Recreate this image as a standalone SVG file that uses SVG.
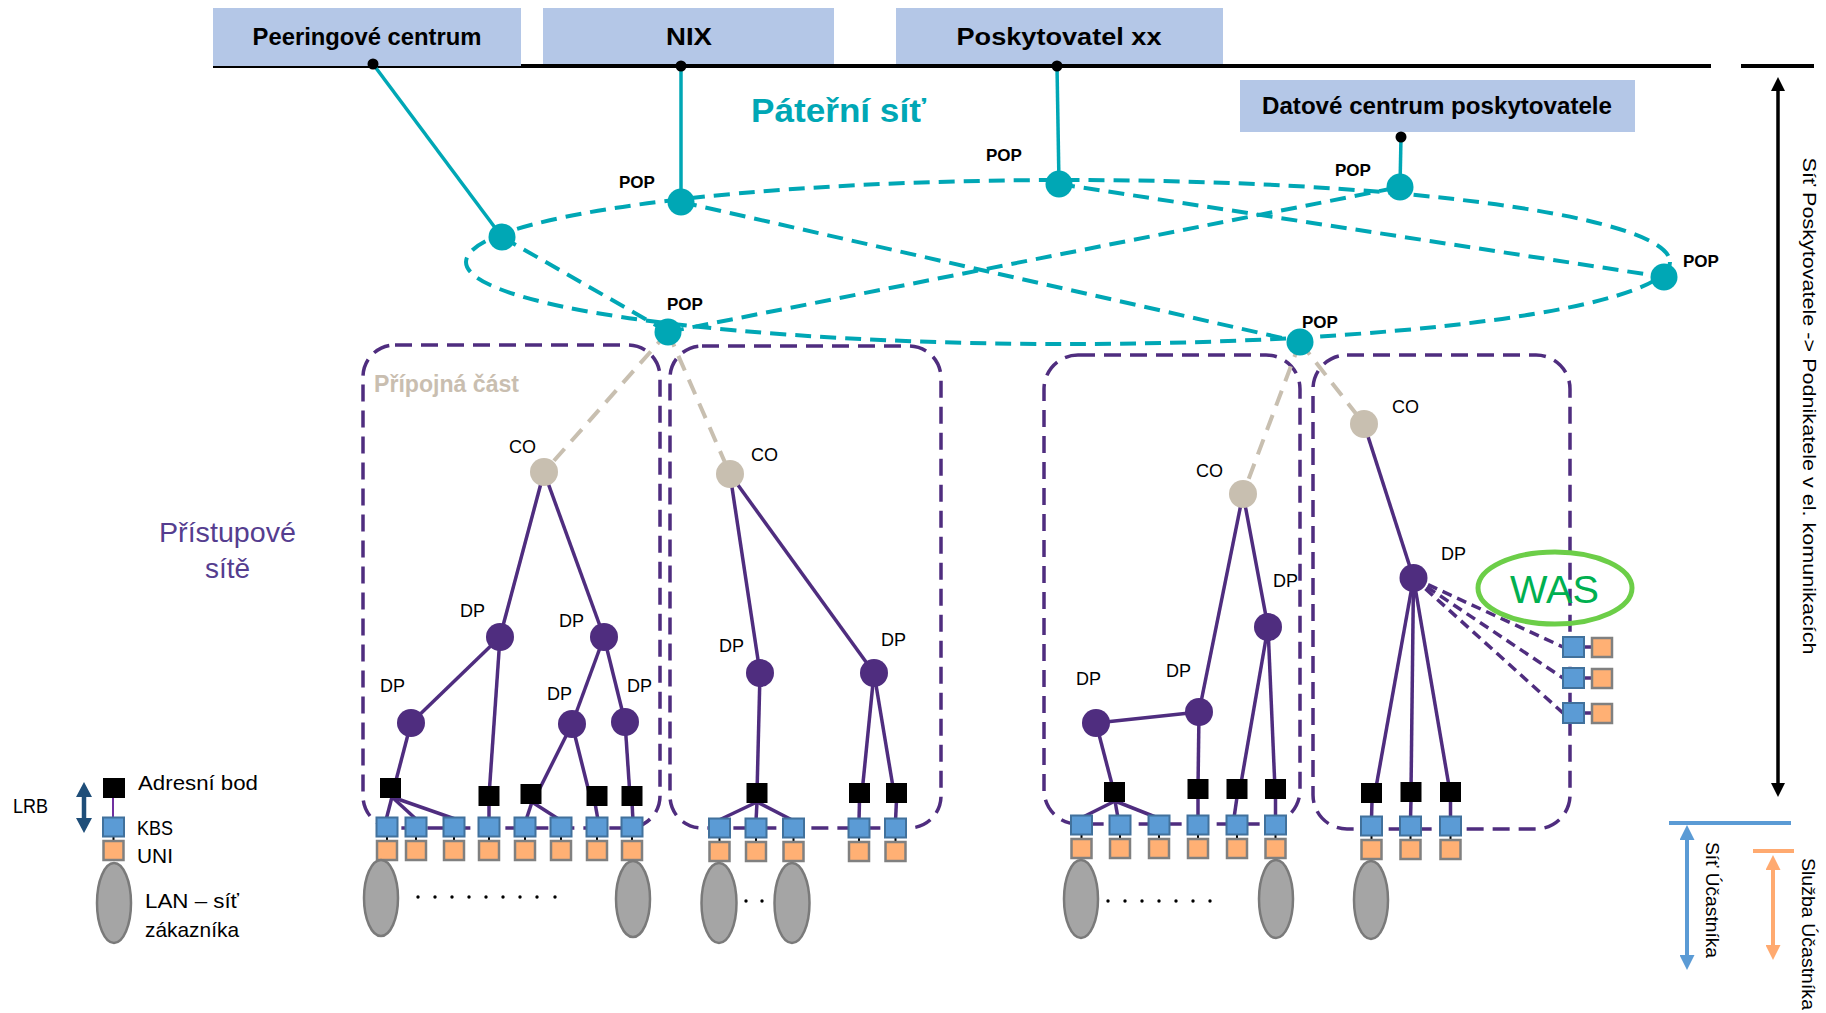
<svg xmlns="http://www.w3.org/2000/svg" xmlns:xlink="http://www.w3.org/1999/xlink" width="1826" height="1013" viewBox="0 0 1826 1013">
<style>
text{font-family:"Liberation Sans",Arial,sans-serif}
.box{fill:#B4C7E7}
.boxt{font-size:23px;font-weight:bold;fill:#000;text-anchor:middle}
.ts{stroke:#00A7B5;stroke-width:3.5;fill:none}
.td{stroke:#00A7B5;stroke-width:4;fill:none;stroke-dasharray:16 9}
.bd{stroke:#C8BFB0;stroke-width:4;fill:none;stroke-dasharray:16 10}
.pl{stroke:#4F2D7F;stroke-width:3.5;fill:none}
.pd{stroke:#4F2D7F;stroke-width:3.5;fill:none;stroke-dasharray:10 6}
.pbox{fill:none;stroke:#4F2D7F;stroke-width:3.5;stroke-dasharray:17 9}
.pop{fill:#00A7B5}
.co{fill:#C8BFB0}
.dp{fill:#4F2D7F}
.ab{fill:#000}
.kbs{fill:#5B9BD5;stroke:#41719C;stroke-width:2}
.uni{fill:#FFB074;stroke:#808080;stroke-width:2.5}
.lan{fill:#A5A5A5;stroke:#7A7A7A;stroke-width:2.5}
.popl{font-size:17px;font-weight:bold;fill:#000}
.lbl{font-size:18px;fill:#000}
.leg{font-size:21px;fill:#000}
.vt{font-size:19px;fill:#000;text-anchor:middle}
</style>
<defs>
<g id="ku">
<line x1="0" y1="9" x2="0" y2="15" stroke="#000" stroke-width="2"/>
<rect class="kbs" x="-10.5" y="-9.5" width="21" height="19"/>
<rect class="uni" x="-10" y="14" width="20" height="19"/>
</g>
<marker id="ahK" viewBox="0 0 14 14" refX="9" refY="7" markerWidth="14" markerHeight="15" markerUnits="userSpaceOnUse" orient="auto-start-reverse"><path d="M0,0 L14,7 L0,14 z" fill="#000"/></marker>
<marker id="ahB" viewBox="0 0 15 15" refX="10" refY="7.5" markerWidth="15" markerHeight="15" markerUnits="userSpaceOnUse" orient="auto-start-reverse"><path d="M0,0 L15,7.5 L0,15 z" fill="#5B9BD5"/></marker>
<marker id="ahO" viewBox="0 0 15 15" refX="10" refY="7.5" markerWidth="15" markerHeight="15" markerUnits="userSpaceOnUse" orient="auto-start-reverse"><path d="M0,0 L15,7.5 L0,15 z" fill="#FFAA70"/></marker>
<marker id="ahD" viewBox="0 0 15 16" refX="10" refY="8" markerWidth="15" markerHeight="16" markerUnits="userSpaceOnUse" orient="auto-start-reverse"><path d="M0,0 L15,8 L0,16 z" fill="#1F4E79"/></marker>
</defs>
<rect width="1826" height="1013" fill="#fff"/>

<!-- backbone line -->
<line x1="213" y1="66" x2="1711" y2="66" stroke="#000" stroke-width="4"/>
<line x1="1741" y1="66" x2="1814" y2="66" stroke="#000" stroke-width="4"/>

<g id="peering"><rect class="box" x="213" y="8" width="308" height="58"/><text class="boxt" x="367" y="45" textLength="229" lengthAdjust="spacingAndGlyphs">Peeringové centrum</text></g>
<g id="nix"><rect class="box" x="543" y="8" width="291" height="56"/><text class="boxt" x="689" y="45" textLength="46" lengthAdjust="spacingAndGlyphs">NIX</text></g>
<g id="poskytovatel"><rect class="box" x="896" y="8" width="327" height="56"/><text class="boxt" x="1059" y="45" textLength="205" lengthAdjust="spacingAndGlyphs">Poskytovatel xx</text></g>
<g id="datacentrum"><rect class="box" x="1240" y="80" width="395" height="52"/><text class="boxt" x="1437" y="114" textLength="350" lengthAdjust="spacingAndGlyphs">Datové centrum poskytovatele</text></g>

<text x="751" y="122" font-size="34" font-weight="bold" fill="#00A7B5" textLength="175" lengthAdjust="spacingAndGlyphs">Páteřní síť</text>

<!-- access boxes -->
<g id="access-areas">
<rect class="pbox" x="363" y="345" width="297" height="483" rx="32"/>
<rect class="pbox" x="670" y="346" width="271" height="482" rx="32"/>
<rect class="pbox" x="1044" y="355" width="256" height="469" rx="34"/>
<rect class="pbox" x="1313" y="355" width="257" height="474" rx="34"/>
</g>
<text x="374" y="392" font-size="23" font-weight="bold" fill="#C9BEB0" textLength="145" lengthAdjust="spacingAndGlyphs">Přípojná část</text>

<g id="connectors">
<!-- backbone -->
<line class="ts" x1="373" y1="64" x2="502" y2="237"/>
<line class="ts" x1="681" y1="66" x2="681" y2="202"/>
<line class="ts" x1="1057" y1="66" x2="1059" y2="184"/>
<line class="ts" x1="1401" y1="137" x2="1400" y2="187"/>
<ellipse class="td" cx="1068" cy="262" rx="602" ry="82"/>
<line class="td" x1="502" y1="237" x2="668" y2="332"/>
<line class="td" x1="668" y1="332" x2="1400" y2="187"/>
<line class="td" x1="681" y1="202" x2="1300" y2="342"/>
<line class="td" x1="1059" y1="184" x2="1664" y2="277"/>
<!-- POP to CO -->
<line class="bd" x1="668" y1="332" x2="544" y2="472"/>
<line class="bd" x1="668" y1="332" x2="730" y2="474"/>
<line class="bd" x1="1300" y1="342" x2="1243" y2="494"/>
<line class="bd" x1="1300" y1="342" x2="1364" y2="424"/>
<!-- tree A -->
<line class="pl" x1="544" y1="472" x2="500" y2="637"/>
<line class="pl" x1="544" y1="472" x2="604" y2="637"/>
<line class="pl" x1="500" y1="637" x2="411" y2="723"/>
<line class="pl" x1="500" y1="637" x2="489" y2="796"/>
<line class="pl" x1="604" y1="637" x2="572" y2="724"/>
<line class="pl" x1="604" y1="637" x2="625" y2="722"/>
<line class="pl" x1="411" y1="723" x2="394" y2="788"/>
<line class="pl" x1="572" y1="724" x2="538" y2="792"/>
<line class="pl" x1="572" y1="724" x2="590" y2="796"/>
<line class="pl" x1="625" y1="722" x2="630" y2="796"/>
<line class="pl" x1="392" y1="797" x2="386" y2="820"/>
<line class="pl" x1="392" y1="797" x2="417" y2="820"/>
<line class="pl" x1="392" y1="797" x2="455" y2="819"/>
<line class="pl" x1="489" y1="800" x2="489" y2="820"/>
<line class="pl" x1="532" y1="802" x2="526" y2="820"/>
<line class="pl" x1="532" y1="802" x2="560" y2="820"/>
<line class="pl" x1="595" y1="803" x2="598" y2="820"/>
<line class="pl" x1="632" y1="803" x2="633" y2="820"/>
<!-- tree B -->
<line class="pl" x1="730" y1="474" x2="760" y2="673"/>
<line class="pl" x1="730" y1="474" x2="874" y2="673"/>
<line class="pl" x1="760" y1="673" x2="757" y2="793"/>
<line class="pl" x1="874" y1="673" x2="862" y2="793"/>
<line class="pl" x1="874" y1="673" x2="894" y2="793"/>
<line class="pl" x1="757" y1="802" x2="717" y2="821"/>
<line class="pl" x1="757" y1="802" x2="756" y2="821"/>
<line class="pl" x1="757" y1="802" x2="794" y2="821"/>
<line class="pl" x1="859.5" y1="800" x2="859" y2="821"/>
<line class="pl" x1="896.5" y1="800" x2="895.5" y2="821"/>
<!-- tree C -->
<line class="pl" x1="1243" y1="494" x2="1199" y2="712"/>
<line class="pl" x1="1243" y1="494" x2="1268" y2="627"/>
<line class="pl" x1="1096" y1="723" x2="1199" y2="712"/>
<line class="pl" x1="1096" y1="723" x2="1114" y2="792"/>
<line class="pl" x1="1199" y1="712" x2="1198" y2="789"/>
<line class="pl" x1="1268" y1="627" x2="1240" y2="789"/>
<line class="pl" x1="1268" y1="627" x2="1275" y2="789"/>
<line class="pl" x1="1115" y1="801" x2="1081" y2="818"/>
<line class="pl" x1="1115" y1="801" x2="1118" y2="818"/>
<line class="pl" x1="1115" y1="801" x2="1158" y2="818"/>
<line class="pl" x1="1198" y1="797" x2="1198" y2="818"/>
<line class="pl" x1="1237" y1="797" x2="1234" y2="818"/>
<line class="pl" x1="1275.5" y1="797" x2="1275.5" y2="818"/>
<!-- tree D -->
<line class="pl" x1="1364" y1="424" x2="1413.5" y2="578"/>
<line class="pl" x1="1413.5" y1="578" x2="1375" y2="793"/>
<line class="pl" x1="1413.5" y1="578" x2="1411" y2="792"/>
<line class="pl" x1="1413.5" y1="578" x2="1450" y2="792"/>
<line class="pl" x1="1372" y1="801" x2="1371.5" y2="819"/>
<line class="pl" x1="1411" y1="800" x2="1410.5" y2="819"/>
<line class="pl" x1="1450.5" y1="800" x2="1450.5" y2="819"/>
<!-- WAS -->
<line class="pd" x1="1413.5" y1="578" x2="1563" y2="647"/>
<line class="pd" x1="1413.5" y1="578" x2="1563" y2="678"/>
<line class="pd" x1="1413.5" y1="578" x2="1563" y2="713"/>
<line class="pl" x1="1583" y1="647" x2="1593" y2="647"/>
<line class="pl" x1="1583" y1="678" x2="1593" y2="678"/>
<line class="pl" x1="1583" y1="713" x2="1593" y2="713"/>
</g>

<!-- POP nodes -->
<g id="pops">
<circle class="pop" cx="502" cy="237" r="13.5"/>
<circle class="pop" cx="681" cy="202" r="13.5"/>
<circle class="pop" cx="1059" cy="184" r="13.5"/>
<circle class="pop" cx="1400" cy="187" r="13.5"/>
<circle class="pop" cx="1664" cy="277" r="13.5"/>
<circle class="pop" cx="1300" cy="342" r="13.5"/>
<circle class="pop" cx="668" cy="332" r="13.5"/>
<circle cx="373" cy="64" r="5.5"/>
<circle cx="681" cy="66" r="5.5"/>
<circle cx="1057" cy="66" r="5.5"/>
<circle cx="1401" cy="137" r="5.5"/>
<text class="popl" x="619" y="188">POP</text>
<text class="popl" x="667" y="310">POP</text>
<text class="popl" x="986" y="161">POP</text>
<text class="popl" x="1335" y="176">POP</text>
<text class="popl" x="1683" y="267">POP</text>
<text class="popl" x="1302" y="328">POP</text>
</g>

<!-- access tree A -->
<g id="tree-a">
<circle class="co" cx="544" cy="472" r="14"/>
<text class="lbl" x="509" y="453">CO</text>
<circle class="dp" cx="500" cy="637" r="14"/><text class="lbl" x="460" y="617">DP</text>
<circle class="dp" cx="604" cy="637" r="14"/><text class="lbl" x="559" y="627">DP</text>
<circle class="dp" cx="411" cy="723" r="14"/><text class="lbl" x="380" y="692">DP</text>
<circle class="dp" cx="572" cy="724" r="14"/><text class="lbl" x="547" y="700">DP</text>
<circle class="dp" cx="625" cy="722" r="14"/><text class="lbl" x="627" y="692">DP</text>
<rect class="ab" x="380" y="778" width="21" height="20"/>
<rect class="ab" x="478.5" y="786" width="21" height="20"/>
<rect class="ab" x="520.5" y="784" width="21" height="20"/>
<rect class="ab" x="586.5" y="786" width="21" height="20"/>
<rect class="ab" x="621.5" y="786" width="21" height="20"/>
<use xlink:href="#ku" x="387" y="827"/>
<use xlink:href="#ku" x="416" y="827"/>
<use xlink:href="#ku" x="454" y="827"/>
<use xlink:href="#ku" x="489" y="827"/>
<use xlink:href="#ku" x="525" y="827"/>
<use xlink:href="#ku" x="561" y="827"/>
<use xlink:href="#ku" x="597" y="827"/>
<use xlink:href="#ku" x="632" y="827"/>
<ellipse class="lan" cx="381" cy="898" rx="17" ry="38"/>
<ellipse class="lan" cx="633" cy="899" rx="17" ry="38"/>
<g fill="#000"><circle cx="418" cy="897" r="1.7"/><circle cx="435" cy="897" r="1.7"/><circle cx="452" cy="897" r="1.7"/><circle cx="469" cy="897" r="1.7"/><circle cx="486" cy="897" r="1.7"/><circle cx="503" cy="897" r="1.7"/><circle cx="520" cy="897" r="1.7"/><circle cx="537" cy="897" r="1.7"/><circle cx="555" cy="897" r="1.7"/></g>
</g>

<!-- access tree B -->
<g id="tree-b">
<circle class="co" cx="730" cy="474" r="14"/><text class="lbl" x="751" y="461">CO</text>
<circle class="dp" cx="760" cy="673" r="14"/><text class="lbl" x="719" y="652">DP</text>
<circle class="dp" cx="874" cy="673" r="14"/><text class="lbl" x="881" y="646">DP</text>
<rect class="ab" x="746.5" y="783" width="21" height="20"/>
<rect class="ab" x="849" y="783" width="21" height="20"/>
<rect class="ab" x="886" y="783" width="21" height="20"/>
<use xlink:href="#ku" x="719.5" y="828"/>
<use xlink:href="#ku" x="756" y="828"/>
<use xlink:href="#ku" x="793.5" y="828"/>
<use xlink:href="#ku" x="859" y="828"/>
<use xlink:href="#ku" x="895.5" y="828"/>
<ellipse class="lan" cx="719" cy="903" rx="17.5" ry="40"/>
<ellipse class="lan" cx="792" cy="903" rx="17.5" ry="40"/>
<g fill="#000"><circle cx="746" cy="901" r="1.7"/><circle cx="762" cy="901" r="1.7"/></g>
</g>

<!-- access tree C -->
<g id="tree-c">
<circle class="co" cx="1243" cy="494" r="14"/><text class="lbl" x="1196" y="477">CO</text>
<circle class="dp" cx="1268" cy="627" r="14"/><text class="lbl" x="1273" y="587">DP</text>
<circle class="dp" cx="1199" cy="712" r="14"/><text class="lbl" x="1166" y="677">DP</text>
<circle class="dp" cx="1096" cy="723" r="14"/><text class="lbl" x="1076" y="685">DP</text>
<rect class="ab" x="1104" y="782" width="21" height="20"/>
<rect class="ab" x="1187.5" y="779" width="21" height="20"/>
<rect class="ab" x="1226.5" y="779" width="21" height="20"/>
<rect class="ab" x="1265" y="779" width="21" height="20"/>
<use xlink:href="#ku" x="1081.5" y="825"/>
<use xlink:href="#ku" x="1120" y="825"/>
<use xlink:href="#ku" x="1159" y="825"/>
<use xlink:href="#ku" x="1198" y="825"/>
<use xlink:href="#ku" x="1237" y="825"/>
<use xlink:href="#ku" x="1275.5" y="825"/>
<ellipse class="lan" cx="1081" cy="899" rx="17" ry="39"/>
<ellipse class="lan" cx="1276" cy="899" rx="17" ry="39"/>
<g fill="#000"><circle cx="1108" cy="901" r="1.7"/><circle cx="1125" cy="901" r="1.7"/><circle cx="1142" cy="901" r="1.7"/><circle cx="1159" cy="901" r="1.7"/><circle cx="1176" cy="901" r="1.7"/><circle cx="1193" cy="901" r="1.7"/><circle cx="1210" cy="901" r="1.7"/></g>
</g>

<!-- access tree D -->
<g id="tree-d">
<circle class="co" cx="1364" cy="424" r="14"/><text class="lbl" x="1392" y="413">CO</text>
<circle class="dp" cx="1413.5" cy="578" r="14"/><text class="lbl" x="1441" y="560">DP</text>
<rect class="ab" x="1361" y="783" width="21" height="20"/>
<rect class="ab" x="1400.5" y="782" width="21" height="20"/>
<rect class="ab" x="1440" y="782" width="21" height="20"/>
<use xlink:href="#ku" x="1371.5" y="826"/>
<use xlink:href="#ku" x="1410.5" y="826"/>
<use xlink:href="#ku" x="1450.5" y="826"/>
<ellipse class="lan" cx="1371" cy="900" rx="17" ry="39"/>
</g>

<!-- WAS -->
<g id="was">
<ellipse cx="1555" cy="588" rx="77" ry="36" fill="none" stroke="#6CCE48" stroke-width="5"/>
<text x="1510" y="603" font-size="39" fill="#00B050" textLength="89" lengthAdjust="spacingAndGlyphs">WAS</text>
<rect class="kbs" x="1563" y="637" width="21" height="20"/><rect class="uni" x="1592" y="638" width="20" height="19"/>
<rect class="kbs" x="1563" y="668" width="21" height="20"/><rect class="uni" x="1592" y="669" width="20" height="19"/>
<rect class="kbs" x="1563" y="703" width="21" height="20"/><rect class="uni" x="1592" y="704" width="20" height="19"/>
</g>

<!-- left labels / legend -->
<g id="legend">
<text x="227.5" y="542" font-size="28" fill="#553D8F" text-anchor="middle" textLength="137" lengthAdjust="spacingAndGlyphs">Přístupové</text>
<text x="227.5" y="578" font-size="28" fill="#553D8F" text-anchor="middle">sítě</text>
<line x1="84" y1="787" x2="84" y2="828" stroke="#1F4E79" stroke-width="4.5" marker-start="url(#ahD)" marker-end="url(#ahD)"/>
<text class="leg" x="13" y="813" textLength="35" lengthAdjust="spacingAndGlyphs">LRB</text>
<line x1="113" y1="798" x2="113" y2="818" stroke="#7030A0" stroke-width="2"/>
<rect class="ab" x="103" y="778" width="22" height="20"/>
<use xlink:href="#ku" x="113.5" y="827"/>
<ellipse class="lan" cx="114" cy="903" rx="17" ry="40"/>
<text class="leg" x="138" y="790" textLength="120" lengthAdjust="spacingAndGlyphs">Adresní bod</text>
<text class="leg" x="137" y="835" textLength="36" lengthAdjust="spacingAndGlyphs">KBS</text>
<text class="leg" x="137" y="863" textLength="36" lengthAdjust="spacingAndGlyphs">UNI</text>
<text class="leg" x="145" y="908" textLength="94" lengthAdjust="spacingAndGlyphs">LAN –  síť</text>
<text class="leg" x="145" y="937" textLength="94" lengthAdjust="spacingAndGlyphs">zákazníka</text>
</g>

<!-- right scale -->
<g id="scale">
<line x1="1778" y1="82" x2="1778" y2="792" stroke="#000" stroke-width="3.5" marker-start="url(#ahK)" marker-end="url(#ahK)"/>
<text class="vt" transform="translate(1803,406) rotate(90)" textLength="497" lengthAdjust="spacingAndGlyphs">Síť Poskytovatele -&gt; Podnikatele v el. komunikacích</text>
<line x1="1669" y1="823" x2="1791" y2="823" stroke="#5B9BD5" stroke-width="4"/>
<line x1="1687" y1="830" x2="1687" y2="965" stroke="#5B9BD5" stroke-width="4" marker-start="url(#ahB)" marker-end="url(#ahB)"/>
<line x1="1753" y1="851" x2="1794" y2="851" stroke="#FFAA70" stroke-width="4"/>
<line x1="1773" y1="860" x2="1773" y2="955" stroke="#FFAA70" stroke-width="4" marker-start="url(#ahO)" marker-end="url(#ahO)"/>
<text class="vt" transform="translate(1706,900) rotate(90)" textLength="116" lengthAdjust="spacingAndGlyphs">Síť Účastníka</text>
<text class="vt" transform="translate(1802,934) rotate(90)" textLength="152" lengthAdjust="spacingAndGlyphs">Služba Účastníka</text>
</g>
</svg>
